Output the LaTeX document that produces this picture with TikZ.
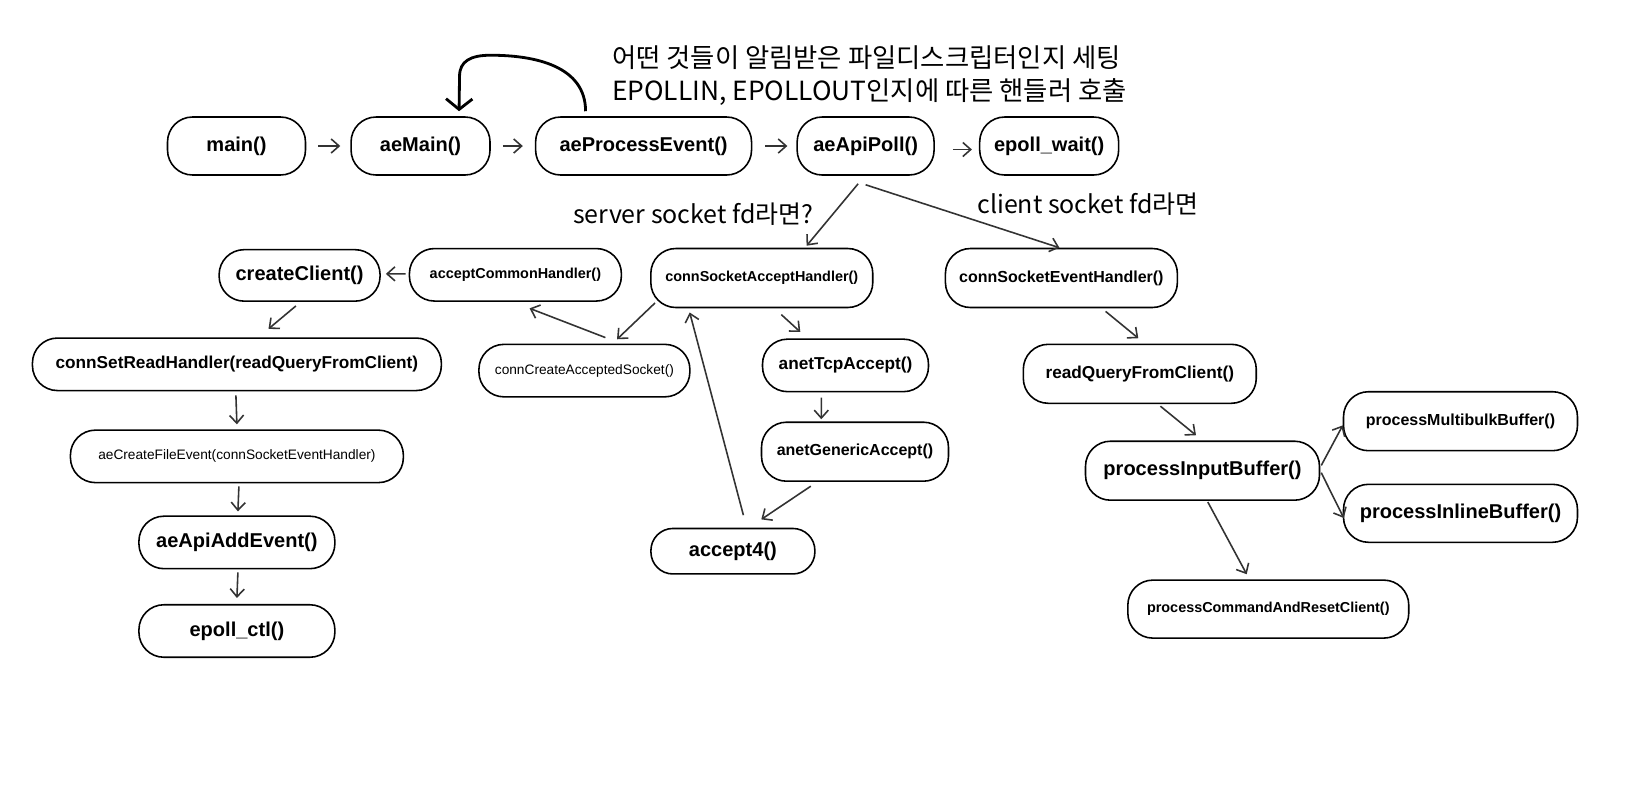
\documentclass[tikz,border=0pt]{standalone}
\usepackage{fontspec}
\setmainfont{Liberation Sans}
\newfontfamily\kr{Noto Sans CJK KR}
\usepackage{tikz}
\usetikzlibrary{arrows.meta,positioning,calc}

\begin{document}
\begin{tikzpicture}[
  x=0.02cm, y=-0.02cm,
  node distance=0.88cm,
  fn/.style={draw,rounded corners=0.5cm,minimum height=1.16cm,align=center,
    inner sep=2pt,line width=0.9pt},
  fbig/.style={font=\bfseries\fontsize{11.4}{13}\selectfont},
  fmid/.style={font=\bfseries\fontsize{9.8}{11}\selectfont},
  fmidb/.style={font=\bfseries\fontsize{9.1}{11}\selectfont},
  fsmall/.style={font=\bfseries\fontsize{8.2}{10}\selectfont},
  fplain/.style={font=\fontsize{7.8}{9}\selectfont},
  note/.style={font=\kr\fontsize{14.2}{19.1}\selectfont,inner sep=0pt,anchor=west,align=left},
  arrow/.style={-{Straight Barb[length=4.5pt,width=8pt]},line width=0.9pt,draw=black!80},
  loopback/.style={-{Straight Barb[length=6pt,width=15pt]},line width=1.6pt}
]
\fill[white] (0,0) rectangle (1651,799);
% main loop
\node[fn,fbig,minimum width=2.76cm] (main) at (236.5,146) {main()};
\node[fn,fbig,minimum width=2.78cm,right=of main] (aemain) {aeMain()};
\node[fn,fbig,minimum width=4.32cm,right=of aemain] (aeprocess) {aeProcessEvent()};
\node[fn,fbig,minimum width=2.74cm,right=of aeprocess] (apipoll) {aeApiPoll()};
\node[fn,fbig,minimum width=2.78cm,right=of apipoll] (epollwait) {epoll\_wait()};
\node[note,font=\kr\fontsize{15}{19.1}\selectfont] (notepoll) at (611.8,75.6) {어떤 것들이 알림받은 파일디스크립터인지 세팅\\EPOLLIN, EPOLLOUT인지에 따른 핸들러 호출};
\node[note] (noteserver) at (572.8,213.8) {server socket fd라면?};
\node[note] (noteclient) at (977,204.3) {client socket fd라면};
% server socket side
\node[fn,fbig,minimum width=3.22cm,minimum height=1.03cm] (createclient) at (299.6,275.4) {createClient()};
\node[fn,fsmall,minimum width=4.24cm,minimum height=1.05cm] (acceptcommon) at (515.4,274.8) {acceptCommonHandler()};
\node[fn,fsmall,minimum width=4.44cm,minimum height=1.18cm] (sockaccept) at (761.8,278) {connSocketAcceptHandler()};
\node[fn,fplain,minimum width=4.22cm,minimum height=1.05cm] (createaccepted) at (584.4,370.6) {connCreateAcceptedSocket()};
\node[fn,fmid,minimum width=3.32cm,minimum height=1.05cm] (tcpaccept) at (845.5,365.4) {anetTcpAccept()};
\node[fn,fmidb,minimum width=3.74cm,minimum height=1.18cm] (genericaccept) at (855,451.7) {anetGenericAccept()};
\node[fn,fbig,minimum width=3.28cm,minimum height=0.91cm,rounded corners=0.44cm] (accept) at (732.9,551.2) {accept4()};
\node[fn,fmid,minimum width=8.18cm,minimum height=1.05cm] (setread) at (236.9,364.3) {connSetReadHandler(readQueryFromClient)};
\node[fn,fplain,minimum width=6.66cm,minimum height=1.05cm,below=0.76cm of setread] (createfile) {aeCreateFileEvent(connSocketEventHandler)};
\node[fn,fbig,minimum width=3.92cm,minimum height=1.05cm,below=0.64cm of createfile] (addevent) {aeApiAddEvent()};
\node[fn,fbig,minimum width=3.92cm,minimum height=1.05cm,below=0.69cm of addevent] (epollctl) {epoll\_ctl()};
% client socket side
\node[fn,fmidb,minimum width=4.64cm,minimum height=1.18cm] (sockevent) at (1061.4,278) {connSocketEventHandler()};
\node[fn,fmid,minimum width=4.66cm,minimum height=1.18cm] (readquery) at (1139.8,373.8) {readQueryFromClient()};
\node[fn,fbig,minimum width=4.68cm,minimum height=1.18cm] (inputbuf) at (1202.5,470.7) {processInputBuffer()};
\node[fn,fmidb,minimum width=4.68cm,minimum height=1.18cm] (multibulk) at (1460.5,421.2) {processMultibulkBuffer()};
\node[fn,fbig,minimum width=4.68cm,minimum height=1.16cm] (inlinebuf) at (1460.5,513.3) {processInlineBuffer()};
\node[fn,fsmall,minimum width=5.62cm,minimum height=1.16cm] (cmdreset) at (1268.3,609.1) {processCommandAndResetClient()};

\draw[arrow] ($(main.east)+(12,0)$) -- ($(aemain.west)+(-10,0)$);
\draw[arrow] ($(aemain.east)+(12,0)$) -- ($(aeprocess.west)+(-12,0)$);
\draw[arrow] ($(aeprocess.east)+(13,0)$) -- ($(apipoll.west)+(-9,0)$);
\draw[arrow] ($(apipoll.east)+(18,3.5)$) -- ($(epollwait.west)+(-7,3.5)$);
\draw[loopback] ($(aeprocess.north)+(-58,-5)$) .. controls +(0,-45) and +(45,0) .. ($(aemain.north)+(70,-61)$)
  .. controls +(-20,0) and +(0,-15) .. ($(aemain.north)+(39,-40)$) -- ($(aemain.north)+(38.5,-5)$);
\draw[arrow] ($(apipoll.south)+(-7.5,8)$) -- ($(sockaccept.north)+(44.8,-2)$);
\draw[arrow] ($(apipoll.south)+(0,9)$) -- ($(sockevent.north)+(-2,0)$);
\draw[arrow] ($(acceptcommon.west)+(-3,-1)$) -- ($(createclient.east)+(5,-1.5)$);
\draw[arrow] ($(createclient.south)+(-3.7,4)$) -- ($(setread.north)+(31.6,-8.4)$);
\draw[arrow] ($(setread.south)+(-1,4)$) -- ($(createfile.north)+(0,-5)$);
\draw[arrow] ($(createfile.south)+(2,3)$) -- ($(addevent.north)+(1,-4)$);
\draw[arrow] ($(addevent.south)+(1,3)$) -- ($(epollctl.north)+(0,-6)$);
\draw[arrow] ($(sockaccept.south)+(-106.8,-5.3)$) -- ($(createaccepted.north)+(32.6,-4.3)$);
\draw[arrow] ($(createaccepted.north)+(21,-6)$) -- ($(acceptcommon.south)+(14.2,6.5)$);
\draw[arrow] ($(sockaccept.south)+(19.5,6.3)$) -- ($(tcpaccept.north)+(-45.2,-6.4)$);
\draw[arrow] ($(tcpaccept.south)+(-24.2,5.3)$) -- ($(genericaccept.north)+(-33.7,-2.2)$);
\draw[arrow] ($(genericaccept.south)+(-44.2,4.2)$) -- ($(accept.north)+(28.4,-8.3)$);
\draw[arrow] ($(accept.north)+(10.5,-12.5)$) -- ($(sockaccept.south)+(-72.1,4.2)$);
\draw[arrow] ($(sockevent.south)+(44.2,3.1)$) -- ($(readquery.north)+(-1.5,-5.3)$);
\draw[arrow] ($(readquery.south)+(20.6,2.1)$) -- ($(inputbuf.north)+(-6.5,-5.2)$);
\draw[arrow] ($(inputbuf.east)+(1,-5.3)$) -- ($(multibulk.west)+(0,4.2)$);
\draw[arrow] ($(inputbuf.east)+(1,2)$) -- ($(inlinebuf.west)+(1,4.7)$);
\draw[arrow] ($(inputbuf.south)+(5.3,1)$) -- ($(cmdreset.north)+(-21.6,-5.1)$);
\end{tikzpicture}
\end{document}
